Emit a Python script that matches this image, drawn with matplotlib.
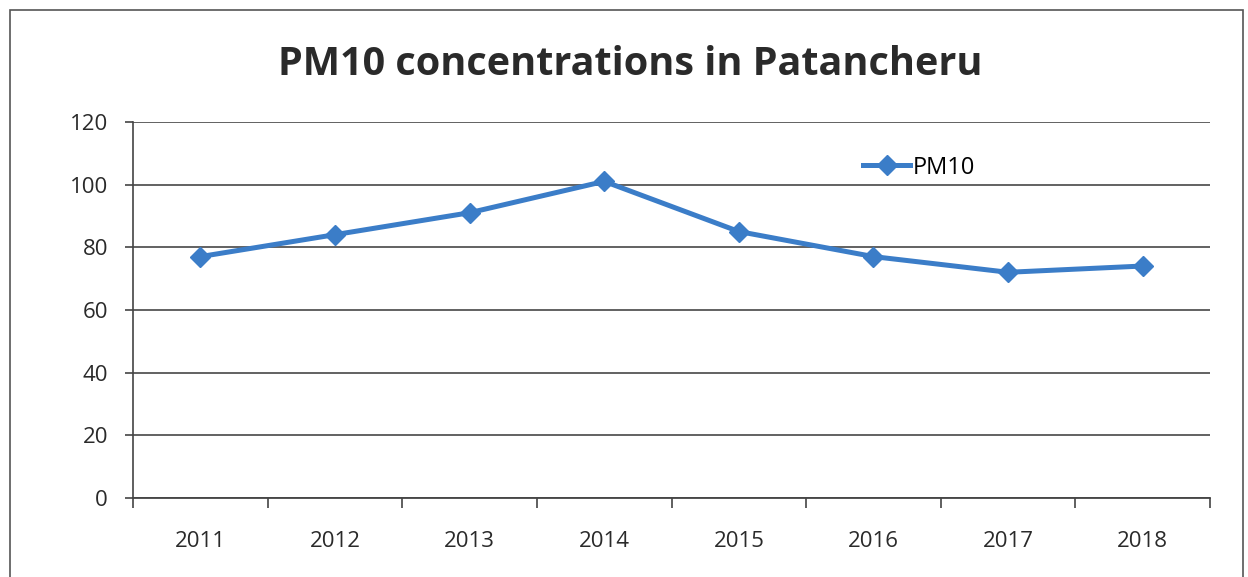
import matplotlib.pyplot as plt
from matplotlib.patches import Rectangle

# PM10 yearly values
years = ["2011", "2012", "2013", "2014", "2015", "2016", "2017", "2018"]
pm10 = [77, 84, 91, 101, 85, 77, 72, 74]
yticks = [0, 20, 40, 60, 80, 100, 120]

plt.rcParams['font.family'] = ['Open Sans', 'DejaVu Sans']

fig = plt.figure(figsize=(12.48, 5.77), dpi=100)
ax = fig.add_axes([0.1066, 0.1369, 0.863, 0.652])

# outer chart border
fig.patches.append(Rectangle((10/1248, -0.1), (1243-10)/1248, 1.1 - 10/577,
                             transform=fig.transFigure, fill=False,
                             edgecolor="#555555", linewidth=1.2))

x = list(range(len(years)))
ax.plot(x, pm10, color="#3b7dc8", linewidth=3.6, marker="D", markersize=10,
        label="PM10", zorder=3)

ax.set_xlim(-0.5, len(years) - 0.5)
ax.set_ylim(0, 120)
ax.set_yticks(yticks)
ax.set_yticklabels([str(v) for v in yticks], fontsize=16, color="#2a2a2a")
ax.set_xticks(x)
ax.set_xticklabels(years, fontsize=16, color="#2a2a2a")
ax.set_xticks([i - 0.5 for i in range(len(years) + 1)], minor=True)
ax.tick_params(axis="x", which="major", length=0, pad=24)
ax.tick_params(axis="x", which="minor", length=7, width=1.2, color="#444444")
ax.tick_params(axis="y", length=6, width=1.2, color="#444444", pad=12)

ax.grid(axis="y", color="#555555", linewidth=1.3)
ax.set_axisbelow(True)
for s in ["top", "right"]:
    ax.spines[s].set_visible(False)
ax.spines["left"].set_color("#444444")
ax.spines["left"].set_linewidth(1.2)
ax.spines["bottom"].set_color("#444444")
ax.spines["bottom"].set_linewidth(1.3)

ax.legend(loc="center left", bbox_to_anchor=(0.658, 0.878), frameon=False,
          fontsize=17, handlelength=2.0, handletextpad=0.1)

fig.text(0.505, 0.888, "PM10 concentrations in Patancheru", ha="center",
         va="center", fontsize=28.5, fontweight="bold", color="#2a2a2a")

fig.savefig("out.png", dpi=100)
